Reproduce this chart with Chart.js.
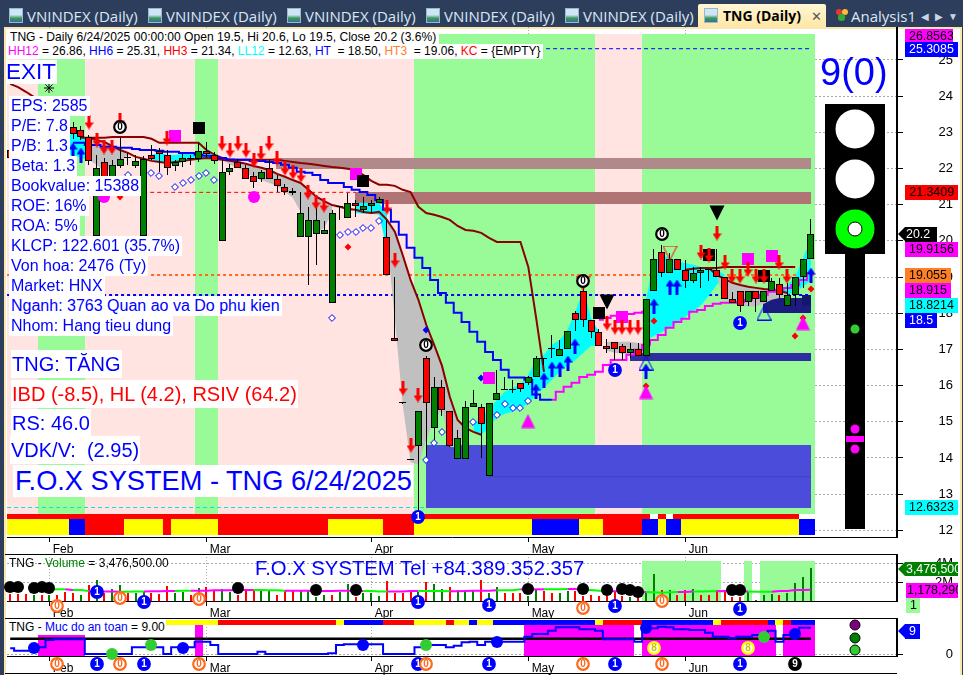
<!DOCTYPE html>
<html>
<head>
<meta charset="utf-8">
<title>TNG (Daily)</title>
<script src="https://cdn.jsdelivr.net/npm/chart.js@4"></script>
<style>
  html, body { margin: 0; padding: 0; width: 963px; height: 675px; overflow: hidden; background: #2d3e5c; }
  #frame { position: absolute; left: 4px; top: 27px; width: 954px; height: 648px; background: #fff; border: 2px solid #fbe7ad; border-bottom: 0; box-sizing: content-box; }
  canvas { position: absolute; left: 0; }
  .abs { position: absolute; white-space: pre; font-family: "Liberation Sans", Arial, sans-serif; }
  .tab { position: absolute; top: 7px; color: #dbe7f6; font: 15px/18px "Open Sans", sans-serif; white-space: pre; }
  .ico { position: absolute; top: 8px; width: 14px; height: 15px; background: linear-gradient(#cfe6f7 0 45%, #3f9a52 70%, #2f6fb0); border: 1px solid #9db6cc; box-sizing: border-box; }
  .box { background: #fff; color: #0000ff; font-size: 16px; line-height: 20px; padding: 0 2px 0 2px; }
  .big { background: #fff; color: #0000ff; font-size: 20px; line-height: 28px; padding: 0 1px; }
  .val { height: 15px; line-height: 15px; font-size: 12.4px; color: #000; padding-left: 4px; box-sizing: border-box; overflow: hidden; }
  .hr { position: absolute; height: 1px; background: #000; left: 5px; width: 892px; }
</style>
</head>
<body>
<div id="frame"></div>

<div class="ico" style="left:9px"></div><div class="tab" style="left:27px">VNINDEX (Daily)</div>
<div class="ico" style="left:148px"></div><div class="tab" style="left:166px">VNINDEX (Daily)</div>
<div class="ico" style="left:287px"></div><div class="tab" style="left:305px">VNINDEX (Daily)</div>
<div class="ico" style="left:426px"></div><div class="tab" style="left:444px">VNINDEX (Daily)</div>
<div class="ico" style="left:565px"></div><div class="tab" style="left:583px">VNINDEX (Daily)</div>
<div class="abs" style="left:698px;top:4px;width:128px;height:23px;background:linear-gradient(#fff6d6,#ffe7a4);border-radius:2px 2px 0 0"></div>
<div class="ico" style="left:704px"></div>
<div class="tab" style="left:723px;color:#000;font-weight:700;font-size:14px">TNG (Daily)</div>
<div class="tab" style="left:811px;color:#555;font-size:13px">✕</div>
<div class="abs" style="left:836px;top:9px;width:6px;height:6px;background:#e33;border-radius:3px"></div>
<div class="abs" style="left:842px;top:9px;width:6px;height:6px;background:#fb3;border-radius:3px"></div>
<div class="abs" style="left:838px;top:14px;width:7px;height:7px;background:#3a3;border-radius:3px"></div>
<div class="tab" style="left:851px">Analysis1</div>
<div class="tab" style="left:921px;font-size:10px;color:#c9d4e4">◀</div>
<div class="tab" style="left:935px;font-size:10px;color:#c9d4e4">▶</div>
<div class="tab" style="left:948px;font-size:10px;color:#c9d4e4">▼</div>

<canvas id="mainChart" width="963" height="527" style="top:27px"></canvas>
<canvas id="volumeChart" width="963" height="64" style="top:554px"></canvas>
<canvas id="safetyChart" width="963" height="57" style="top:618px"></canvas>
<div class="hr" style="top:554px"></div>
<div class="hr" style="top:618px"></div>
<div class="hr" style="top:673px"></div>

<div class="abs" style="left:7px;top:30px;height:15px;line-height:15px;background:#fff;font-size:12.1px;padding:0 3px;color:#000">TNG - Daily 6/24/2025 00:00:00 Open 19.5, Hi 20.6, Lo 19.5, Close 20.2 (3.6%)</div>
<div class="abs" style="left:7px;top:44px;height:15px;line-height:15px;background:#fff;font-size:12px;padding:0 2px 0 1px;color:#000"><span style="color:#ff00ff">HH12</span> = 26.86, <span style="color:#0000ff">HH6</span> = 25.31, <span style="color:#ff0000">HH3</span> = 21.34, <span style="color:#00ffff">LL12</span> = 12.63, <span style="color:#0000ff">HT </span> = 18.50, <span style="color:#ff7f27">HT3 </span> = 19.06, <span style="color:#ff0000">KC</span> = {EMPTY}</div>

<div class="abs" style="left:6px;top:60px;background:#fff;color:#0000ff;font-size:22.5px;line-height:24px;padding-right:1px">EXIT</div>
<div class="abs box" style="left:9px;top:96px">EPS: 2585</div>
<div class="abs box" style="left:9px;top:116px">P/E: 7.8</div>
<div class="abs box" style="left:9px;top:136px">P/B: 1.3</div>
<div class="abs box" style="left:9px;top:156px">Beta: 1.3</div>
<div class="abs box" style="left:9px;top:176px">Bookvalue: 15388</div>
<div class="abs box" style="left:9px;top:196px">ROE: 16%</div>
<div class="abs box" style="left:9px;top:216px">ROA: 5%</div>
<div class="abs box" style="left:9px;top:236px">KLCP: 122.601 (35.7%)</div>
<div class="abs box" style="left:9px;top:256px">Von hoa: 2476 (Ty)</div>
<div class="abs box" style="left:9px;top:276px">Market: HNX</div>
<div class="abs box" style="left:9px;top:296px">Nganh: 3763 Quan ao va Do phu kien</div>
<div class="abs box" style="left:9px;top:316px">Nhom: Hang tieu dung</div>
<div class="abs big" style="left:11px;top:350px">TNG: TĂNG</div>
<div class="abs big" style="left:11px;top:380px;color:#ff0000">IBD (-8.5), HL (4.2), RSIV (64.2)</div>
<div class="abs big" style="left:11px;top:409px">RS: 46.0</div>
<div class="abs big" style="left:10px;top:436px">VDK/V:  (2.95)</div>
<div class="abs" style="left:13px;top:465px;background:#fff;color:#0000ff;font-size:27.2px;line-height:32px;padding:0 1px 0 2px">F.O.X SYSTEM - TNG 6/24/2025</div>
<div class="abs" style="left:820px;top:50px;color:#0000ff;font-size:38px;line-height:44px">9(0)</div>

<div class="abs" style="left:9px;top:556px;height:15px;line-height:15px;font-size:12px;color:#000">TNG - <span style="color:#008000">Volume</span> = 3,476,500.00</div>
<div class="abs" style="left:255px;top:556px;color:#0000ff;font-size:20.3px;line-height:24px">F.O.X SYSTEM Tel +84.389.352.357</div>
<div class="abs" style="left:8px;top:620px;height:15px;line-height:15px;font-size:12px;color:#000;background:#fff;padding:0 1px">TNG - <span style="color:#0000ff">Muc do an toan</span> = 9.00</div>

<div class="abs val" style="left:905px;top:29px;width:48px;background:#ff00ff">26.8563</div>
<div class="abs val" style="left:905px;top:42px;width:53px;background:#0000ff;color:#fff">25.3085</div>
<div class="abs val" style="left:905px;top:185px;width:53px;background:#ff0000">21.3409</div>
<div class="abs" style="left:898px;top:227px;width:0;height:0;border:7.5px solid transparent;border-right:7px solid #000;border-left:0"></div>
<div class="abs val" style="left:905px;top:227px;width:32px;background:#000;color:#fff;padding-left:1px">20.2</div>
<div class="abs val" style="left:905px;top:242px;width:53px;background:#ff00ff">19.9156</div>
<div class="abs val" style="left:905px;top:268px;width:46px;background:#ff7f27">19.055</div>
<div class="abs val" style="left:905px;top:283px;width:46px;background:#ff00ff">18.915</div>
<div class="abs val" style="left:905px;top:298px;width:53px;background:#00ffff">18.8214</div>
<div class="abs val" style="left:905px;top:313px;width:32px;background:#0000ff;color:#fff">18.5</div>
<div class="abs val" style="left:905px;top:500px;width:53px;background:#00ffff">12.6323</div>
<div class="abs" style="left:898px;top:562px;width:0;height:0;border:7px solid transparent;border-right:7px solid #008000;border-left:0"></div>
<div class="abs val" style="left:905px;top:562px;width:53px;height:14px;line-height:14px;background:#008000;color:#fff;padding-left:1px">3,476,500</div>
<div class="abs val" style="left:906px;top:583px;width:52px;background:#ff00ff;padding-left:1px">1,178,290</div>
<div class="abs val" style="left:906px;top:598px;width:14px;background:#98fb98">1</div>
<div class="abs" style="left:898px;top:624px;width:0;height:0;border:7.5px solid transparent;border-right:7px solid #0000ff;border-left:0"></div>
<div class="abs val" style="left:905px;top:624px;width:15px;background:#0000ff;color:#fff">9</div>

<script>
// prices, one entry per trading day (index 0 .. 102)
const opens = [22.5,22.25,22.5,22.4,22.55,22.7,22.9,22.85,23.14,23.07,22.87,20.14,22.18,21.68,22.08,22.29,22.08,20.14,22.38,22.48,22.38,22.08,22.19,22.27,22.27,22.48,22.38,19.99,21.9,22.19,22.01,21.8,21.7,22,21.7,21.5,21.35,20.1,20.1,20.18,20.18,18.28,20.94,20.64,21.04,20.84,20.95,21.04,20.1,17.31,15.52,13.97,14.34,16.76,14.83,15.97,15.31,13.97,13.97,15.41,15.41,13.51,15.59,15.9,15.88,16.07,16.07,16.25,16.76,17.02,16.83,17.02,18,18.61,17.82,17.49,17.09,17.2,17.09,16.9,17,16.81,18.6,19.69,19.1,19.5,19.19,18.88,19.1,19.2,19.19,18.99,18.39,18.61,18.3,18.61,18.3,18.61,18.8,18.2,18.49,19,19.5];
const highs = [22.6,22.5,22.6,22.7,22.8,22.9,23,23.1,23.29,23.18,22.93,22.38,22.29,22.24,22.85,22.43,22.37,22.35,22.65,22.57,22.51,22.24,22.4,22.37,22.71,22.73,22.46,22.24,22.13,22.27,22.1,21.91,21.96,22.24,21.82,21.57,21.46,21.35,20.94,21,20.56,20.84,20.97,21.32,21.13,21.22,21.13,21.22,20.58,19,15.52,13.97,15.31,16.82,16.24,16.16,15.31,14.78,15.58,15.88,15.49,15.52,16.44,16.24,16.16,16.08,16.27,16.82,16.76,17.4,17.26,17.52,18.07,18.7,17.82,17.57,17.29,17.21,17.15,17.18,17.18,18.39,19.77,19.89,19.67,19.5,19.47,19.28,19.28,19.2,19.77,19,18.59,18.62,18.62,18.62,18.62,18.97,18.98,18.84,19,19.5,20.6];
const lows = [22.2,22.2,22.3,22.3,22.5,22.6,22.7,22.75,22.82,22.79,22.1,20.03,21.63,21.55,22.02,22.1,22.02,20.03,22.24,21.91,21.82,21.93,22.04,22.1,22.18,22.32,22.13,19.99,21.82,22.01,21.7,21.46,21.63,21.7,21.35,21.27,21.27,20.1,18.77,19.34,20.18,18.28,20.58,20.64,20.67,20.77,20.77,21.04,19.05,17.22,15.52,13.97,12.49,13.95,14.5,15.15,14.31,13.97,13.97,15.41,13.99,13.51,15.59,15.9,15.8,15.83,16.02,16.25,16.57,16.77,16.83,17.02,17.51,17.62,17.32,17.09,16.91,16.71,16.71,16.77,16.81,16.81,18.6,19,19.1,19.19,18.7,18.84,18.71,18.9,18.99,18.38,18.28,18.02,18.2,18.02,18.3,18.61,18.43,18.2,18.2,18.7,19.5];
const closes = [22.3,22.4,22.35,22.6,22.75,22.8,22.75,23,22.95,22.87,22.2,22.02,21.68,22.1,22.27,22.29,22.2,22.27,22.27,22.4,22.01,22.19,22.28,22.27,22.47,22.4,22.2,21.89,22.01,22.01,21.7,21.62,21.9,21.7,21.52,21.35,21.35,20.76,20.58,20.58,20.3,20.76,20.94,21.04,20.95,20.95,21.04,21.15,19.05,17.22,15.52,13.97,15.31,15.52,15.97,15.33,14.34,14.54,15.41,15.52,14.93,15.52,15.79,15.9,15.88,15.9,16.25,16.76,16.76,17.02,17.02,17.51,17.8,17.8,17.49,17.09,17,17,16.9,17.01,16.81,18.39,19.5,19.1,19.5,19.19,18.88,19.1,19.19,19.2,18.99,18.38,18.29,18.2,18.61,18.38,18.61,18.88,18.49,18.49,19,19.5,20.2];

const monthBars = [5, 25, 46, 66, 86];
const monthNames = [' Feb', ' Mar', ' Apr', ' May', ' Jun'];
const priceTicks = [12,13,14,15,16,17,18,19,20,21,22,23,24,25];
const volumeTicks = [2000000, 4000000];
const volumeTickNames = ['2M', '4M'];

// trend lines: first bar + values
const maFastStart = 10;
const maFast = [22.85,22.79,22.73,22.62,22.51,22.43,22.32,22.27,22.21,22.18,22.15,22.18,22.21,22.24,22.27,22.29,22.27,22.24,22.21,22.18,22.13,22.07,22.02,21.96,21.85,21.77,21.68,21.6,21.41,21.22,21.1,20.99,20.94,20.88,20.86,20.8,20.77,20.8,20.58,20.25,19.61,18.92,18.37,17.68,17.13,16.55,15.69,15.05,14.83,14.72,14.64];
const maSlowStart = 9;
const maSlow = [22.85,22.85,22.85,22.85,22.87,22.87,22.87,22.87,22.87,22.82,22.71,22.71,22.71,22.71,22.71,22.71,22.51,22.38,22.29,22.24,22.24,22.24,22.24,22.24,22.24,22.24,22.21,22.18,22.15,22.13,22.1,22.07,22.04,22.02,21.99,21.96,21.82,21.66,21.55,21.55,21.52,21.41,21.35,20.94,20.77,20.72,20.66,20.58,20.41,20.3,20.28,20.22,20.08,19.97,19.97,19.97,19.97,19.28,17.87,16.38];
const maTopLeft = [24.34,24.25,24.12,23.98];
const maLateStart = 86;
const maLate = [19.2,19.23,19.25,19.25,19.25,19.28,19.28,19.28,19.28,19.28,19.28,19.28,19.28,19.28,19.28];
const maCurveStart = 88;
const maCurve = [19.25,19.25,19.06,18.95,18.84,18.78,18.73,18.7,18.67,18.65,18.62,18.56];
const blueStepStart = 8;
const blueStep = [22.71,22.71,22.65,22.65,22.6,22.6,22.57,22.57,22.54,22.51,22.51,22.49,22.46,22.46,22.43,22.43,22.38,22.35,22.32,22.29,22.25,22.24,22.24,22.21,22.21,22.18,22.15,22.1,22.02,21.91,21.88,21.82,21.68,21.6,21.6,21.49,21.41,21.35,21.27,21.13,20.86,20.53,20.17,19.81,19.53,19.25,18.92,18.56,18.29,18.01,17.76,17.49,17.21,16.93,16.71,16.44,16.22,16.22,16.16,15.75,15.61,15.61];
const magentaStepStart = 69;
const magentaStep = [15.61,15.83,15.97,16.08,16.24,16.3,16.38,16.57,16.71,16.71,16.85,16.99,17.13,17.26,17.4,17.6,17.76,17.85,18.04,18.09,18.2,18.26,18.29,18.29,18.31,18.37,18.42,18.51,18.59,18.65,18.7,18.78,18.92,19.11];
const magentaShortStart = 75;
const magentaShort = [17.82,17.87,17.93,17.96,17.98,18.01,18.04];

// shaded channels: [first bar, upper values, lower values]
const cyanZones = [
  [1, [22.51,22.54,22.57,22.6,22.65,22.79,22.87,22.98,22.98,22.79], [22.35,22.35,22.35,22.35,22.38,22.38,22.38,22.38,22.29,22.24]],
  [18, [22.38,22.43,22.38,22.38,22.4,22.4,22.46,22.46,22.4,22.29], [22.24,22.18,22.13,22.13,22.18,22.24,22.24,22.29,22.32,22.29]],
  [44, [21.05,21.05,21.05,21.05,20.72], [20.77,20.75,20.75,20.72,19.75]],
  [59, [14.92,15.11,15.33,15.61,15.83,15.94,16.02,16.3,16.71,16.85,17.13,17.26,17.54,18.04,18.65,17.87,17.49], [14.7,14.64,14.83,15.14,15.22,15.28,15.39,15.5,15.75,15.94,16.16,16.38,16.55,16.71,16.91,17.1,17.1]],
  [81, [18.37,19.42,19.61,19.53,19.42,19.39,19.34,19.28,19.25,19.2,19.06], [17.26,17.37,17.49,17.6,17.76,17.9,18.04,18.23,18.48,18.78,19.03]],
  [98, [18.56,18.78,19,19.53,20.03], [18.51,18.51,18.59,18.73,18.92]]
];
const grayZones = [
  [10, [22.85,22.79,22.73,22.62,22.51,22.43], [22.24,22.1,21.91,22.02,22.18,22.38]],
  [27, [22.24,22.21,22.18,22.13,22.07,22.02,21.96,21.85,21.77,21.68,21.6,21.41,21.22,21.1,20.99], [22.24,22.1,22.02,21.91,21.74,21.68,21.6,21.52,21.35,21.19,20.8,20.36,20.22,20.36,20.77]],
  [48, [20.58,20.25,19.61,18.92,18.37,17.68,17.13,16.55,15.69,15.05,14.83], [20.03,17.82,15.47,13.89,13.81,14.5,15.05,15.33,14.31,14.28,14.72]],
  [76, [17.21,17.21,17.21,17.21,17.18,17.13], [16.96,16.91,16.88,16.88,16.88,16.93]],
  [90, [19.06,18.95,18.84,18.78,18.73,18.7,18.67,18.65,18.62,18.56], [19,18.37,18.31,18.2,18.18,18.2,18.26,18.37,18.42,18.48]]
];

// background: green bars, every other bar is pink
const greenRuns = [[4,9],[24,26],[52,74],[81,102]];
const lastBar = 102;
// colour strip under the candles: start bar of each run
const stripStarts = [0,8,10,15,20,21,27,41,48,52,67,73,76,81,83,84,86,101];
const stripNames = ['y','b','r','y','r','y','r','y','r','y','b','y','r','b','y','b','y','b'];
const stripGapBars = [82,84,101,102];
const safetyStarts = [20,27,42,43,48,52,56,57,59,60,62,75,76,81,90,91,97,98,99,100];
const safetyNames = ['y','r','y','b','r','y','r','y','b','y','b','y','r','b','y','r','b','y','r','b'];

// markers: bar and price
const redArrowBars = [10,11,12,13,14,20,27,28,29,30,31,32,33,34,35,36,37,38,39,40,48,49,50,52,51,76,77,78,79,80,88,89,90,91,92,93,94,95,96,98,99];
const redArrowPrices = [23.29,22.79,22.6,22.6,23.34,22.85,22.71,22.51,22.71,22.51,22.24,22.43,22.71,22.29,22.02,21.91,21.82,21.35,21.08,20.99,20.94,19.47,15.94,15.75,14.36,17.73,17.62,17.62,17.62,17.62,19.7,19.61,20.22,19.42,19.03,19.03,19.23,19.03,19.03,19.42,19.03];
const blueArrowBars = [8,9,67,68,69,70,71,72,81,82,84,85,102];
const blueArrowPrices = [22.51,22.38,15.86,16.16,16.46,16.46,16.63,17.1,16.41,18.2,18.73,18.73,19.06];
const magentaSquareBars = [21,44,61,78,94,97];
const magentaSquarePrices = [22.9,21.85,16.22,17.9,19.5,19.59];
const blackSquareBars = [45,75,89,96,24];
const blackSquarePrices = [21.66,18.01,19.61,19.03,23.12];
const magentaDotBars = [12,31];
const magentaDotPrices = [21.22,21.22];
const redDiamondBars = [14,43,82,81,100,102,101];
const redDiamondPrices = [21.22,19.83,17.79,16,17.37,18.67,17.87];
const blueDiamondBars = [53,60];
const blueDiamondPrices = [17.54,16.22];
const ringBars = [15,18,19,21,22,23,24,25,26,41,42,43,44,45,46,47,53,54,55,59,62,63,64,65,66];
const ringPrices = [21.82,21.88,21.8,21.49,21.6,21.68,21.8,21.88,21.68,17.87,20.17,20.25,20.25,20.36,20.36,20.55,13.95,14.42,14.72,15,15.19,15.5,15.39,15.39,15.58];
const magentaTriBars = [66,81,101];
const magentaTriPrices = [15.03,15.83,17.73];
const blackTriBars = [76,90];
const blackTriPrices = [18.31,20.77];
const hollowRedBars = [84,73];
const hollowRedPrices = [19.67,18.84];
const hollowBlueBars = [81,96];
const hollowBluePrices = [16.63,18.01];
const zeroBars = [14,53,73,83];
const zeroPrices = [23.15,17.13,18.9,20.19];
const oneBars = [52,77,93];
const onePrices = [12.37,16.44,17.73];

// volume, in shares, and r/g side of each bar
const volumes = [740000,740000,740000,630000,630000,630000,630000,950000,840000,630000,1680000,2200000,840000,1260000,1680000,840000,840000,950000,840000,740000,1580000,840000,950000,630000,1370000,1470000,1160000,1260000,950000,630000,1160000,1260000,1050000,1160000,630000,1050000,1050000,1160000,1160000,420000,630000,630000,950000,1790000,420000,840000,840000,530000,2100000,840000,840000,950000,950000,2000000,1790000,1260000,1470000,1160000,1050000,1160000,2200000,840000,1470000,840000,840000,840000,530000,1160000,1050000,840000,840000,1050000,1050000,530000,630000,530000,530000,950000,530000,420000,420000,840000,2840000,1160000,1160000,630000,1160000,1260000,630000,630000,1160000,1160000,420000,420000,950000,110000,630000,740000,630000,840000,1890000,2520000,3476500];
const volumeSides = 'rrrgrgrrrgrgrggrggrrrggrgrrggrrrggrrrggggrggrgggrrrrgrggrgggrggrrrggrrggrrrrrrrgrggrgrrgrrrrrrggggrggg'.slice(0, 103);
const volumeMaStart = 5;
const volumeMa = [1230000,1230000,1230000,1160000,1160000,1050000,1000000,1000000,1000000,980000,980000,1000000,1000000,1020000,1020000,1050000,1050000,1090000,1090000,1090000,1090000,1130000,1130000,1130000,1160000,1160000,1160000,1160000,1130000,1130000,1090000,1090000,1090000,1090000,1050000,1050000,1050000,1090000,1090000,1090000,1050000,1050000,1000000,1000000,1000000,1000000,1050000,1050000,1050000,1050000,1050000,1020000,1020000,1050000,1090000,1090000,1090000,1130000,1130000,1130000,1230000,1230000,1230000,1230000,1230000,1230000,1260000,1260000,1160000,1160000,1090000,1090000,1020000,1020000,980000,980000,950000,910000,880000,910000,950000,950000,1000000,1000000,1020000,1020000,1050000,1000000,1000000,1000000,980000,980000,980000,1050000,1050000,1160000,1160000,1178290];
const volumeMaGreenRuns = [[5,6],[8,9],[14,16],[21,22],[31,34],[45,47],[52,55],[62,64],[68,70],[73,75],[81,84],[87,89],[94,96]];
const volumeGreenRuns = [[81,90],[94,94],[96,102]];
const volumeBlackBars = [0,1,3,4,5,29,39,44,66,73,76,78,79,80,92,93];
const volumeBlackValues = [1440000,1440000,1370000,1440000,1370000,1370000,1160000,1160000,1260000,1260000,1160000,1260000,1160000,910000,1160000,1160000];
const volumeOneBars = [11,17,52,61,77,93];
const volumeOneValues = [980000,-140000,-140000,-420000,-530000,-810000];
const volumeZeroBars = [6,14,24,73,83];
const volumeZeroValues = [-530000,320000,180000,-770000,0];

// safety level panel
const safetyLine = [2.44,1.49,1.49,2.85,2.85,5.83,6.1,6.1,6.1,6.1,0.14,0.14,0.14,0.14,0.14,0.14,2.85,2.85,2.85,2.85,0.14,2.85,2.85,2.85,5.15,5.15,3.79,0.14,0.14,0.14,0.14,0.14,1.08,0.14,0.14,0.14,0.14,0.14,0.14,0.14,0.14,0.41,3.79,4.07,4.07,4.07,4.07,4.07,0.14,0.14,0.14,0.14,2.85,3.79,3.79,3.79,2.85,3.52,4.88,5.15,3.79,5.15,5.15,5.15,5.15,5.15,7.18,8.27,8.27,9.62,10.98,10.98,10.98,10.16,10.16,9.62,6.1,6.1,6.1,6.1,5.15,9.89,10.57,11.25,10.98,10.16,10.16,9.89,9.89,8.81,7.18,7.18,6.5,7.18,7.18,7.86,7.86,9.62,5.15,7.86,9.21,10.84,10.84];
const safetyLevel = 6.37;
const safetyTallRuns = [[66,79],[81,97],[99,102],[24,24]];
const safetyLowRuns = [[4,9]];
const safetyBlueBars = [3,22,45,62,81,100];
const safetyBlueValues = [2.71,2.71,3.79,5.01,10.84,8.13];
const safetyGreenBars = [13,18,53,96];
const safetyGreenValues = [0,3.79,3.79,6.91];
const safetyZeroBars = [6,14,24,53,73,83];
const safetyOneBars = [11,17,52,61,77,93];
const safetyEightBars = [82,94];
const safetyNineBars = [100];
const safetyBadgeValue = -4.07;

const COLORS = { y: '#ffff00', b: '#0000ff', r: '#ff0000', w: '#ffffff' };
const LIGHT_X = 107.6;

Chart.defaults.animation = false;
Chart.defaults.responsive = false;
Chart.defaults.events = [];
Chart.defaults.font.family = '"Liberation Sans", Arial, sans-serif';
Chart.defaults.font.size = 12;
Chart.defaults.color = '#000';
Chart.defaults.plugins.legend.display = false;
Chart.defaults.plugins.tooltip.enabled = false;

// the original program paints on whole pixels, so snap bars and markers too
const snapMarks = {
  id: 'snapMarks',
  beforeDatasetsDraw(chart) {
    chart.getSortedVisibleDatasetMetas().forEach(function (meta) {
      if (meta.type === 'bar') {
        meta.data.forEach(function (el) {
          el.x = el.width % 2 ? Math.floor(el.x) + 0.5 : Math.round(el.x);
          el.y = Math.round(el.y);
          el.base = Math.round(el.base);
          if (el.y === el.base) el.base = el.y + 1;
        });
      } else if (meta.type === 'scatter') {
        meta.data.forEach(function (el) {
          el.x = Math.round(el.x);
          el.y = Math.round(el.y);
        });
      }
    });
  }
};

function icon(w, h, draw) {
  const c = document.createElement('canvas');
  c.width = w; c.height = h;
  draw(c.getContext('2d'), w, h);
  return c;
}
function polygon(ctx, pts, fill, stroke) {
  ctx.beginPath();
  pts.forEach(function (p, k) { k ? ctx.lineTo(p[0], p[1]) : ctx.moveTo(p[0], p[1]); });
  ctx.closePath();
  if (fill) { ctx.fillStyle = fill; ctx.fill(); }
  if (stroke) { ctx.strokeStyle = stroke; ctx.lineWidth = 1; ctx.stroke(); }
}
function arrowIcon(color, down) {
  return icon(9, 15, function (ctx) {
    const pts = [[3,0],[6,0],[6,8],[9,8],[4.5,15],[0,8],[3,8]];
    polygon(ctx, down ? pts : pts.map(function (p) { return [p[0], 15 - p[1]]; }), color);
  });
}
function triIcon(size, fill, stroke, down) {
  return icon(size + 1, size + 1, function (ctx) {
    const pts = down ? [[0.5,0.5],[size+0.5,0.5],[size/2+0.5,size+0.5]] : [[size/2+0.5,0.5],[size+0.5,size+0.5],[0.5,size+0.5]];
    polygon(ctx, pts, fill, stroke);
  });
}
function badge(digit, ring, inner, ink) {
  return icon(14, 14, function (ctx) {
    ctx.beginPath(); ctx.arc(7, 7, 5.8, 0, Math.PI * 2);
    ctx.fillStyle = inner; ctx.fill();
    ctx.lineWidth = 2.2; ctx.strokeStyle = ring; ctx.stroke();
    ctx.fillStyle = ink; ctx.font = '700 10px "Liberation Sans", Arial';
    ctx.textAlign = 'center'; ctx.textBaseline = 'middle';
    ctx.fillText(digit, 7, 7.5);
  });
}
const ICONS = {
  redArrow: arrowIcon('#ff0000', true),
  blueArrow: arrowIcon('#0000ff', false),
  magentaTri: triIcon(14, '#ff00ff', null, false),
  blackTri: triIcon(15, '#000000', null, true),
  hollowRed: triIcon(14, null, '#ff0000', true),
  hollowBlue: triIcon(14, null, '#0000ff', false),
  zero: badge('0', '#000000', '#ffffff', '#000000'),
  one: badge('1', '#0000ff', '#0000ff', '#ffffff'),
  orangeZero: badge('0', '#ff6a1e', '#ffffff', '#ff6a1e'),
  eight: badge('8', '#ffff00', '#ffffff', '#c8c800'),
  nine: badge('9', '#000000', '#000000', '#ffffff')
};

function series(start, values) {
  return values.map(function (y, k) { return { x: start + k, y: y }; });
}
function pairs(bars, values) {
  return bars.map(function (x, k) { return { x: x, y: values[k] }; });
}
function runs(list) {
  const out = [];
  list.forEach(function (r) { for (let i = r[0]; i <= r[1]; i++) out.push(i); });
  return out;
}
function span(bars, low, high) {
  return bars.map(function (x) { return { x: x, y: [low, high] }; });
}
function fromRuns(starts, names, end) {
  const bars = [], colors = [];
  starts.forEach(function (s, k) {
    const stop = k + 1 < starts.length ? starts[k + 1] : end + 1;
    for (let i = s; i < stop; i++) { bars.push(i); colors.push(COLORS[names[k]]); }
  });
  return { bars: bars, colors: colors };
}
function barSet(data, color, thick, order, extra) {
  return Object.assign({
    type: 'bar', data: data, backgroundColor: color, barThickness: thick, order: order,
    grouped: false, borderSkipped: false, inflateAmount: 0, borderWidth: 0
  }, extra || {});
}
function lineSet(data, color, width, order, extra) {
  return Object.assign({
    type: 'line', data: data, borderColor: color, borderWidth: width, pointRadius: 0, order: order,
    tension: 0, fill: false, borderCapStyle: 'butt'
  }, extra || {});
}
function markSet(data, style, order, size) {
  return {
    type: 'scatter', data: data, pointStyle: style, pointRadius: size || 20, order: order, clip: false,
    pointBorderWidth: 0, pointBackgroundColor: 'rgba(0,0,0,0)'
  };
}
function dotSet(data, shape, radius, fill, order, stroke) {
  return {
    type: 'scatter', data: data, pointStyle: shape, pointRadius: radius, order: order, clip: false,
    pointBackgroundColor: fill, pointBorderColor: stroke || fill, pointBorderWidth: stroke ? 1 : 0
  };
}
function spanBars(left, right) {
  const out = [];
  for (let x = left + 0.5; x < right; x += 1) out.push(x);
  out.push(right - 0.5);
  return out;
}
function flat(x0, x1, y) {
  return [{ x: x0, y: y }, { x: x1, y: y }];
}
function xAxis(height) {
  return {
    type: 'linear', min: -0.408, max: 112.97, offset: false,
    border: { color: '#000', width: 1, dash: [1, 2] },
    grid: { color: '#aaaaaa', tickColor: '#000', tickLength: 5, drawOnChartArea: true, offset: false },
    ticks: { autoSkip: false, maxRotation: 0, align: 'start', padding: 0, font: { size: 12 },
      callback: function (v) { return monthNames[monthBars.indexOf(v)]; } },
    afterBuildTicks: function (s) { s.ticks = monthBars.map(function (v) { return { value: v }; }); },
    afterFit: function (s) { s.height = height; s.paddingLeft = 0; s.paddingRight = 0; }
  };
}
function yAxis(min, max, values, namer) {
  return {
    type: 'linear', position: 'right', min: min, max: max, offset: false,
    border: { color: '#000', width: 2, dash: [2, 2] },
    grid: { color: '#aaaaaa', tickColor: '#000', tickLength: 6 },
    ticks: { padding: 2, crossAlign: 'far', font: { size: 13 }, autoSkip: false, callback: namer },
    afterBuildTicks: function (s) { s.ticks = values.map(function (v) { return { value: v }; }); },
    afterFit: function (s) { s.width = 56; s.paddingTop = 0; s.paddingBottom = 0; }
  };
}

// ---- main price panel ----
const allBars = closes.map(function (c, i) { return i; });
const greenBars = runs(greenRuns);
const bandColors = allBars.map(function (i) { return greenBars.indexOf(i) >= 0 ? '#98fb98' : '#ffe4e1'; });
const strip = fromRuns(stripStarts, stripNames, lastBar);
const stripTopBars = allBars.filter(function (i) { return stripGapBars.indexOf(i) < 0; });
const doji = closes.map(function (c, i) { return opens[i] === c; });

const mainSets = [
  barSet(span(allBars, 11.9, 25.71), bandColors, 8, 100),
  barSet(span(stripTopBars, 12.32, 12.46), '#ff0000', 8, 96),
  barSet(span(strip.bars, 11.88, 12.32), strip.colors, 8, 96),
  barSet(span(stripGapBars, 12.32, 12.46), '#ffffff', 8, 96),

  barSet(span(spanBars(33.86, 102), 21.99, 22.29), '#b08a8a', 8, 92),
  barSet(span(spanBars(43.9, 102), 21.02, 21.35), '#b07474', 8, 92),
  barSet(span(spanBars(52.96, 102), 12.63, 14.36), '#4c4cdb', 8, 92),
  barSet(span(spanBars(78.95, 102), 16.68, 16.91), '#2e2ea0', 8, 91),
  barSet(span(spanBars(95.9, 102), 18.0, 18.42), '#1c1c80', 8, 91),
  barSet(span(spanBars(100.9, 102), 18.2, 18.51), '#16166c', 8, 90),

  lineSet(flat(61, 102, 13.48), '#4040c4', 1, 90),
  lineSet(flat(-0.4, 102, 25.31), '#0000ff', 1, 88, { borderDash: [4, 3] }),
  lineSet(flat(-0.4, 102.4, 19.055), '#ff6a1e', 2, 88, { borderDash: [3, 3] }),
  lineSet(flat(-0.4, 102, 18.5), '#0000ff', 2, 88, { borderDash: [3, 3] }),
  lineSet(flat(0, 44, 21.34), '#ff0000', 1, 88, { borderDash: [4, 3] }),
  lineSet(flat(-0.4, 53, 12.63), '#00e5e5', 1, 88, { borderDash: [4, 3] })
];
grayZones.forEach(function (z) {
  mainSets.push(lineSet(series(z[0], z[1]), 'rgba(0,0,0,0)', 0, 80, { fill: { target: '+1' }, backgroundColor: '#c0c0c0' }));
  mainSets.push(lineSet(series(z[0], z[2]), 'rgba(0,0,0,0)', 0, 80));
});
cyanZones.forEach(function (z) {
  mainSets.push(lineSet(series(z[0], z[1]), 'rgba(0,0,0,0)', 0, 80, { fill: { target: '+1' }, backgroundColor: '#00ffff' }));
  mainSets.push(lineSet(series(z[0], z[2]), 'rgba(0,0,0,0)', 0, 80));
});
mainSets.push(
  lineSet(series(maSlowStart, maSlow), '#8b0000', 2, 70),
  lineSet(series(maFastStart, maFast), '#8b0000', 2, 70),
  lineSet(series(0, maTopLeft), '#8b0000', 2, 70),
  lineSet(series(maLateStart, maLate), '#8b0000', 2, 70),
  lineSet(series(maCurveStart, maCurve), '#8b0000', 2, 70),
  lineSet(series(blueStepStart, blueStep), '#0000ff', 2, 68, { stepped: 'middle' }),
  lineSet(series(magentaStepStart, magentaStep), '#ff00ff', 2, 68, { stepped: 'middle' }),
  lineSet(series(magentaShortStart, magentaShort), '#ff00ff', 2, 68, { stepped: 'middle' }),

  barSet(closes.map(function (c, i) { return { x: i, y: [lows[i], highs[i]] }; }), '#000000', 1, 60),
  barSet(closes.map(function (c, i) {
    return { x: i, y: doji[i] ? [c - 0.014, c + 0.014] : [Math.min(opens[i], c), Math.max(opens[i], c)] };
  }), closes.map(function (c, i) { return doji[i] ? '#000000' : (c < opens[i] ? '#ff0000' : '#008000'); }), 7, 59, { borderColor: '#000', borderWidth: 1 }),

  dotSet(pairs(ringBars, ringPrices), 'rectRot', 3.4, '#ffffff', 50, '#0000ff'),
  dotSet(pairs(redDiamondBars, redDiamondPrices), 'rectRot', 3.4, '#ff0000', 50),
  dotSet(pairs(blueDiamondBars, blueDiamondPrices), 'rectRot', 3.4, '#0000ff', 50),
  dotSet(pairs(magentaDotBars, magentaDotPrices), 'circle', 6, '#ff00ff', 49),
  dotSet(pairs(magentaSquareBars, magentaSquarePrices), 'rect', 8.5, '#ff00ff', 48),
  dotSet(pairs(blackSquareBars, blackSquarePrices), 'rect', 8.5, '#000000', 47),
  markSet(pairs(magentaTriBars, magentaTriPrices), ICONS.magentaTri, 46),
  markSet(pairs(blackTriBars, blackTriPrices), ICONS.blackTri, 46),
  markSet(pairs(hollowRedBars, hollowRedPrices), ICONS.hollowRed, 46),
  markSet(pairs(hollowBlueBars, hollowBluePrices), ICONS.hollowBlue, 46),
  markSet(pairs(redArrowBars, redArrowPrices), ICONS.redArrow, 44),
  markSet(pairs(blueArrowBars, blueArrowPrices), ICONS.blueArrow, 44),
  markSet(pairs(zeroBars, zeroPrices), ICONS.zero, 42),
  markSet(pairs(oneBars, onePrices), ICONS.one, 42),
  dotSet([{ x: 5, y: 24.23 }], 'star', 5, '#000', 42, '#000'),

  // the traffic light at the right
  barSet([{ x: LIGHT_X, y: [19.64, 23.78] }], '#000000', 60, 30),
  barSet([{ x: LIGHT_X, y: [12.04, 19.64] }], '#000000', 20, 30),
  dotSet([{ x: LIGHT_X, y: 23.09 }, { x: LIGHT_X, y: 21.7 }], 'circle', 19.5, '#ffffff', 28),
  dotSet([{ x: LIGHT_X, y: 20.33 }], 'circle', 19.5, '#00ff00', 28),
  dotSet([{ x: LIGHT_X, y: 20.33 }], 'circle', 7, '#ffffff', 27, '#000'),
  dotSet([{ x: LIGHT_X, y: 17.55 }], 'circle', 4.5, '#32cd32', 27),
  dotSet([{ x: LIGHT_X, y: 14.81 }, { x: LIGHT_X, y: 14.24 }], 'circle', 4.5, '#ff00ff', 27),
  barSet([{ x: LIGHT_X, y: [14.45, 14.61] }], '#ff00ff', 18, 27)
);

new Chart(document.getElementById('mainChart'), {
  data: { datasets: mainSets },
  plugins: [snapMarks],
  options: {
    layout: { autoPadding: false, padding: { left: 7, right: 10, top: 0, bottom: 0 } },
    scales: { x: xAxis(17), y: yAxis(11.815, 25.91, priceTicks) }
  }
});

// ---- volume panel ----
const volumeMaGreen = runs(volumeMaGreenRuns);
new Chart(document.getElementById('volumeChart'), {
  data: { datasets: [
    barSet(span(runs(volumeGreenRuns), 0, 4200000), '#98fb98', 8, 100),
    barSet(pairs(allBars, volumes), allBars.map(function (i) { return volumeSides[i] === 'r' ? '#ff0000' : '#008000'; }), 2, 60),
    lineSet(series(volumeMaStart, volumeMa), '#ff00ff', 2, 50, {
      segment: { borderColor: function (c) { return volumeMaGreen.indexOf(c.p0DataIndex + volumeMaStart) >= 0 ? '#00ff00' : '#ff00ff'; } }
    }),
    dotSet(pairs(volumeBlackBars, volumeBlackValues), 'circle', 6, '#000000', 40),
    markSet(pairs(volumeOneBars, volumeOneValues), ICONS.one, 38),
    markSet(pairs(volumeZeroBars, volumeZeroValues), ICONS.orangeZero, 38)
  ] },
  plugins: [snapMarks],
  options: {
    layout: { autoPadding: false, padding: { left: 7, right: 10 } },
    scales: {
      x: xAxis(17),
      y: yAxis(0, 4950000, volumeTicks, function (v) { return volumeTickNames[volumeTicks.indexOf(v)]; })
    }
  }
});

// ---- safety level panel ----
const safety = fromRuns(safetyStarts, safetyNames, lastBar);
function flatBadge(bars) {
  return bars.map(function (x) { return { x: x, y: safetyBadgeValue }; });
}
new Chart(document.getElementById('safetyChart'), {
  data: { datasets: [
    barSet(span(runs(safetyTallRuns), -0.7, 11.92), '#ff00ff', 8, 100),
    barSet(span(runs(safetyLowRuns), -0.7, 7.86), '#ff00ff', 8, 100),
    barSet(span(safety.bars, 11.92, 13.96), safety.colors, 8, 90),
    lineSet(flat(0, 102, safetyLevel), '#000000', 2.5, 70),
    lineSet(series(0, safetyLine), '#0000ff', 2, 60, { stepped: 'middle' }),
    dotSet(pairs(safetyBlueBars, safetyBlueValues), 'circle', 6, '#0000ff', 50),
    dotSet(pairs(safetyGreenBars, safetyGreenValues), 'circle', 6, '#32cd32', 50),
    markSet(flatBadge(safetyZeroBars), ICONS.orangeZero, 40),
    markSet(flatBadge(safetyOneBars), ICONS.one, 40),
    markSet(flatBadge(safetyNineBars), ICONS.nine, 40),
    markSet(pairs(safetyEightBars, [2.71, 2.71]), ICONS.eight, 40),
    dotSet([{ x: LIGHT_X, y: 11.79 }], 'circle', 5, '#800080', 40, '#000'),
    dotSet([{ x: LIGHT_X, y: 6.5 }], 'circle', 5, '#008000', 40, '#000'),
    dotSet([{ x: LIGHT_X, y: 1.63 }], 'circle', 5, '#32cd32', 40, '#000')
  ] },
  plugins: [snapMarks],
  options: {
    layout: { autoPadding: false, padding: { left: 7, right: 10 } },
    scales: { x: xAxis(19), y: yAxis(-0.69, 14.77, [0]) }
  }
});
</script>
</body>
</html>
